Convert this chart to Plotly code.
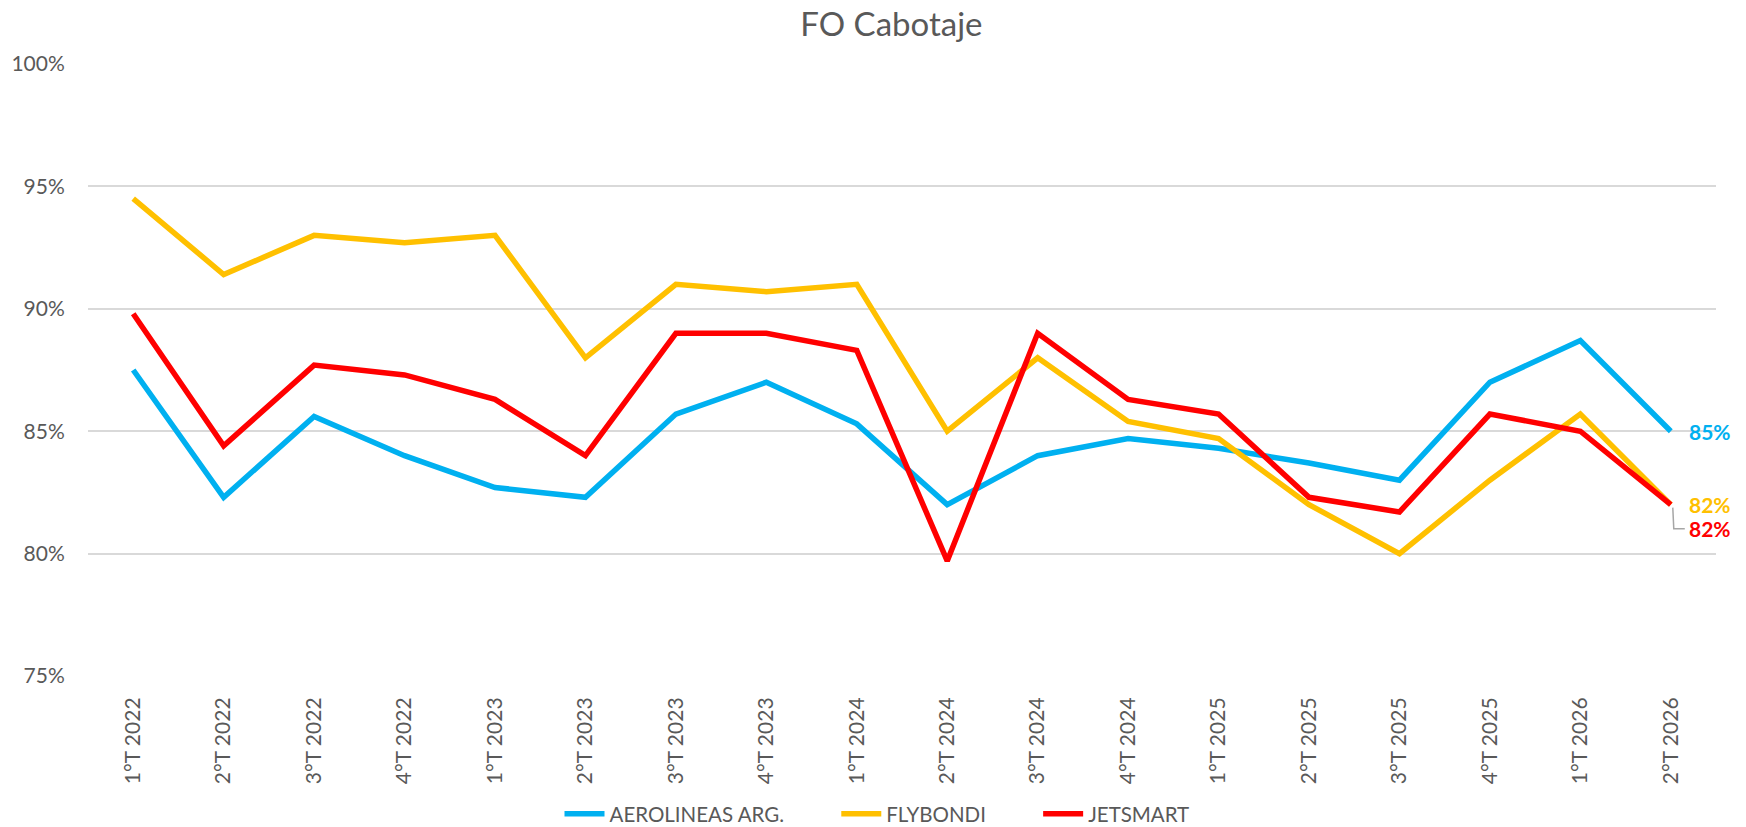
import plotly.graph_objects as go

categories = ["1°T 2022", "2°T 2022", "3°T 2022", "4°T 2022",
              "1°T 2023", "2°T 2023", "3°T 2023", "4°T 2023",
              "1°T 2024", "2°T 2024", "3°T 2024", "4°T 2024",
              "1°T 2025", "2°T 2025", "3°T 2025", "4°T 2025",
              "1°T 2026", "2°T 2026"]

aerolineas = [87.5, 82.3, 85.6, 84.0, 82.7, 82.3, 85.7, 87.0, 85.3,
              82.0, 84.0, 84.7, 84.3, 83.7, 83.0, 87.0, 88.7, 85.0]
flybondi = [94.5, 91.4, 93.0, 92.7, 93.0, 88.0, 91.0, 90.7, 91.0,
            85.0, 88.0, 85.4, 84.7, 82.0, 80.0, 83.0, 85.7, 82.0]
jetsmart = [89.8, 84.4, 87.7, 87.3, 86.3, 84.0, 89.0, 89.0, 88.3,
            79.7, 89.0, 86.3, 85.7, 82.3, 81.7, 85.7, 85.0, 82.0]

series_names = ["AEROLINEAS ARG.", "FLYBONDI", "JETSMART"]
series_values = [aerolineas, flybondi, jetsmart]
colors = ["#00B0F0", "#FFC000", "#FF0000"]
label_yshift = [0, 0, -24]

FONT = "Lato"
GREY = "#595959"
NBSP = "\u00a0"

# page has an 8px body margin; figure sized so that it fills the window
W, H = 1738, 819

fig = go.Figure()
for i, (name, vals, col) in enumerate(zip(series_names, series_values, colors)):
    pad = NBSP * 9 if i < len(series_names) - 1 else ""
    fig.add_trace(go.Scatter(
        x=categories, y=vals, name=name + pad, mode="lines",
        line=dict(color=col, width=5.5),
        hovertemplate=name + ": %{y}%<extra></extra>",
    ))

for vals, col, ys in zip(series_values, colors, label_yshift):
    fig.add_annotation(
        x=categories[-1], y=vals[-1], xref="x", yref="y",
        text=f"<b>{round(vals[-1])}%</b>", showarrow=False,
        xanchor="left", yanchor="middle", xshift=16, yshift=ys,
        font=dict(family=FONT, size=21, color=col),
    )

# leader line for the shifted JETSMART label
fig.add_shape(
    type="path", xref="x", yref="y",
    xsizemode="pixel", ysizemode="pixel",
    xanchor=categories[-1], yanchor=jetsmart[-1],
    path="M 2,-3 L 3,-24 L 14,-24",
    line=dict(color="#A6A6A6", width=1.5),
)

fig.update_layout(
    width=W, height=H,
    paper_bgcolor="white", plot_bgcolor="white",
    margin=dict(l=80, r=30, t=55.5, b=151, autoexpand=False),
    title=dict(text="FO Cabotaje", x=0.4935, xref="paper", xanchor="center",
               y=1 - 16 / H, yref="container", yanchor="middle",
               font=dict(family=FONT, size=33, color=GREY)),
    font=dict(family=FONT, color=GREY),
    showlegend=True,
    legend=dict(orientation="h", x=0.5, xanchor="center", xref="container",
                y=(H - 806) / H, yref="container", yanchor="middle",
                font=dict(family=FONT, size=20.5, color=GREY),
                itemwidth=40, tracegroupgap=0),
    xaxis=dict(type="category", range=[-0.5, len(categories) - 0.5],
               tickangle=-90, showgrid=False, zeroline=False, showline=False,
               automargin=False,
               ticks="outside", ticklen=12, tickcolor="rgba(0,0,0,0)",
               tickfont=dict(family=FONT, size=21, color=GREY)),
    yaxis=dict(range=[75, 100], dtick=5, tick0=75, ticksuffix="%",
               showgrid=True, gridcolor="#D9D9D9", gridwidth=1.5,
               zeroline=False, showline=False, automargin=False,
               ticks="outside", ticklen=18, tickcolor="rgba(0,0,0,0)",
               tickfont=dict(family=FONT, size=21, color=GREY)),
)

fig.write_html("out.html")
